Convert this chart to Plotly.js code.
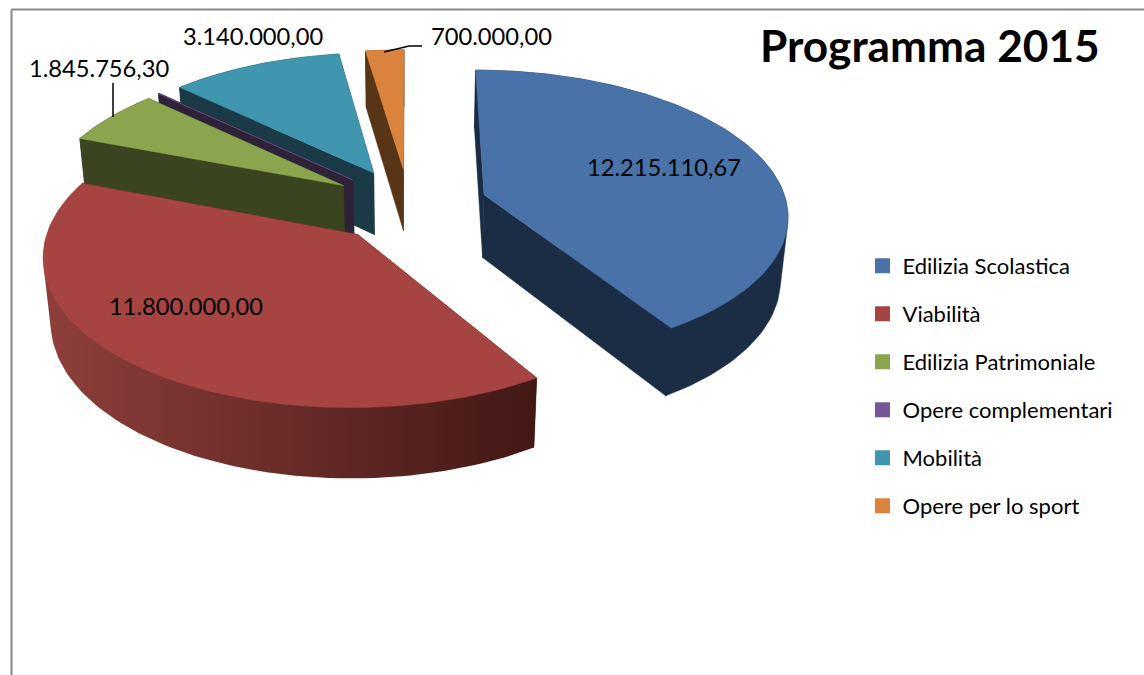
<!DOCTYPE html>
<html><head><meta charset="utf-8">
<script src="https://cdn.plot.ly/plotly-3.0.1.min.js"></script>
<style>html,body{margin:0;padding:0;background:#fff}#c{width:1144px;height:675px}</style>
</head><body><div id="c"></div>
<script>
const categories = ['Edilizia Scolastica','Viabilità','Edilizia Patrimoniale','Opere complementari','Mobilità','Opere per lo sport'];
const values = [12215110.67, 11800000, 1845756.30, 20000, 3140000, 700000];
const valueLabels = ['12.215.110,67','11.800.000,00','1.845.756,30','','3.140.000,00','700.000,00'];
const topColors = ['#4872a8','#a64442','#8aa54d','#755698','#4096ae','#d9833c'];
const wallColors = ['#1a2d45','#8f3f3b','#3a4420','#2d2238','#1a3a47','#583517'];
const wallEndColors = ['#1a2d45','#421815','#3a4420','#2d2238','#1a3a47','#583517'];
const labelPos = [[664,167],[186,306],[99,68],null,[253,36],[491,36]];
const drawOrder = [5,4,3,2,0,1];

// projection of the tilted, exploded pie
const cx=409, cy=205, Rx=303, Ry=143, K=0.127, DEPTH=63, EXPLODE=0.26, ROT=0;
function proj(X,Y,z){
  const s=1/(1+K*Y);
  const px=cx+Rx*X*s, py=cy-Ry*Y*s;
  const d=z?DEPTH*Math.pow(s,0.7):0;
  return [cx+(px-cx)*(1-(z?0.02*d/DEPTH:0)), py+d];
}
const total=values.reduce((a,b)=>a+b,0);
const rad=d=>d*Math.PI/180;
let acc=ROT;
const slices=values.map(v=>{const a0=acc; acc+=v/total*360; return {a0,a1:acc};});
function geom(sl){
  const mid=rad((sl.a0+sl.a1)/2), ax=EXPLODE*Math.sin(mid), ay=EXPLODE*Math.cos(mid);
  const arc=[]; const n=Math.max(4,Math.ceil((sl.a1-sl.a0)/1.5));
  for(let i=0;i<=n;i++){const t=rad(sl.a0+(sl.a1-sl.a0)*i/n); arc.push([ax+Math.sin(t),ay+Math.cos(t)]);}
  return {apex:[ax,ay],arc};
}
function hull(pts){
  const p=pts.slice().sort((a,b)=>a[0]-b[0]||a[1]-b[1]);
  const cross=(o,a,b)=>(a[0]-o[0])*(b[1]-o[1])-(a[1]-o[1])*(b[0]-o[0]);
  const lo=[],up=[];
  p.forEach(q=>{while(lo.length>1&&cross(lo[lo.length-2],lo[lo.length-1],q)<=0)lo.pop();lo.push(q);});
  p.slice().reverse().forEach(q=>{while(up.length>1&&cross(up[up.length-2],up[up.length-1],q)<=0)up.pop();up.push(q);});
  lo.pop();up.pop();
  return lo.concat(up);
}
const traces=[];
function poly(pts,color,c1){
  const t={type:'scatter',mode:'lines',x:pts.map(p=>p[0]).concat(pts[0][0]),y:pts.map(p=>p[1]).concat(pts[0][1]),
    fill:'toself',fillcolor:color,line:{width:(c1&&c1!==color)?0:0.5,color:color},hoverinfo:'skip',showlegend:false};
  if(c1&&c1!==color) t.fillgradient={type:'horizontal',colorscale:[[0,color],[1,c1]]};
  traces.push(t);
}
drawOrder.forEach(i=>{
  const g=geom(slices[i]);
  const A0=proj(g.apex[0],g.apex[1],0), A1=proj(g.apex[0],g.apex[1],1);
  const top=g.arc.map(p=>proj(p[0],p[1],0)), bot=g.arc.map(p=>proj(p[0],p[1],1));
  const last=top.length-1;
  poly([A0,top[last],bot[last],A1],wallEndColors[i]);
  poly([A0,top[0],bot[0],A1],wallEndColors[i]);
  poly(hull(top.concat(bot)),wallColors[i],wallEndColors[i]);
  poly([A0].concat(top),topColors[i]);
});
// legend entries
categories.forEach((c,i)=>traces.push({type:'scatter',mode:'markers',x:[null],y:[null],name:c,legendgroup:'g'+i,
  marker:{symbol:'square',size:15,color:topColors[i]},hoverinfo:'skip'}));

const annotations=[{x:929.5,y:44,xref:'x',yref:'y',text:'<b>Programma 2015</b>',showarrow:false,
  font:{family:'Lato, Carlito, sans-serif',size:44.2,color:'#000'}}];
valueLabels.forEach((l,i)=>{ if(l) annotations.push({x:labelPos[i][0],y:labelPos[i][1],xref:'x',yref:'y',text:l,showarrow:false,
  font:{family:'Lato, Carlito, sans-serif',size:23.7,color:'#000'}}); });

const shapes=[
 {type:'line',xref:'x',yref:'y',x0:11.5,y0:9.5,x1:11.5,y1:675,line:{color:'#878787',width:2}},
 {type:'line',xref:'x',yref:'y',x0:11.5,y0:9.5,x1:1144,y1:9.5,line:{color:'#878787',width:2}},
 {type:'path',xref:'x',yref:'y',path:'M113,83 L113,117',line:{color:'#000',width:1.5}},
 {type:'path',xref:'x',yref:'y',path:'M384,52 L409,46 L422,46',line:{color:'#000',width:1.5}}
];
Plotly.newPlot('c',traces,{
  width:1144,height:675,margin:{l:0,r:0,t:0,b:0},paper_bgcolor:'#fff',plot_bgcolor:'#fff',
  xaxis:{range:[0,1144],visible:false,fixedrange:true},
  yaxis:{range:[675,0],visible:false,fixedrange:true},
  showlegend:true,
  legend:{x:862.5/1144,y:1-245/675,xanchor:'left',yanchor:'top',bgcolor:'rgba(0,0,0,0)',tracegroupgap:16.4,itemclick:false,itemdoubleclick:false,
    font:{family:'Lato, Carlito, sans-serif',size:22,color:'#000'}},
  annotations,shapes
},{displayModeBar:false,staticPlot:true});
</script></body></html>
